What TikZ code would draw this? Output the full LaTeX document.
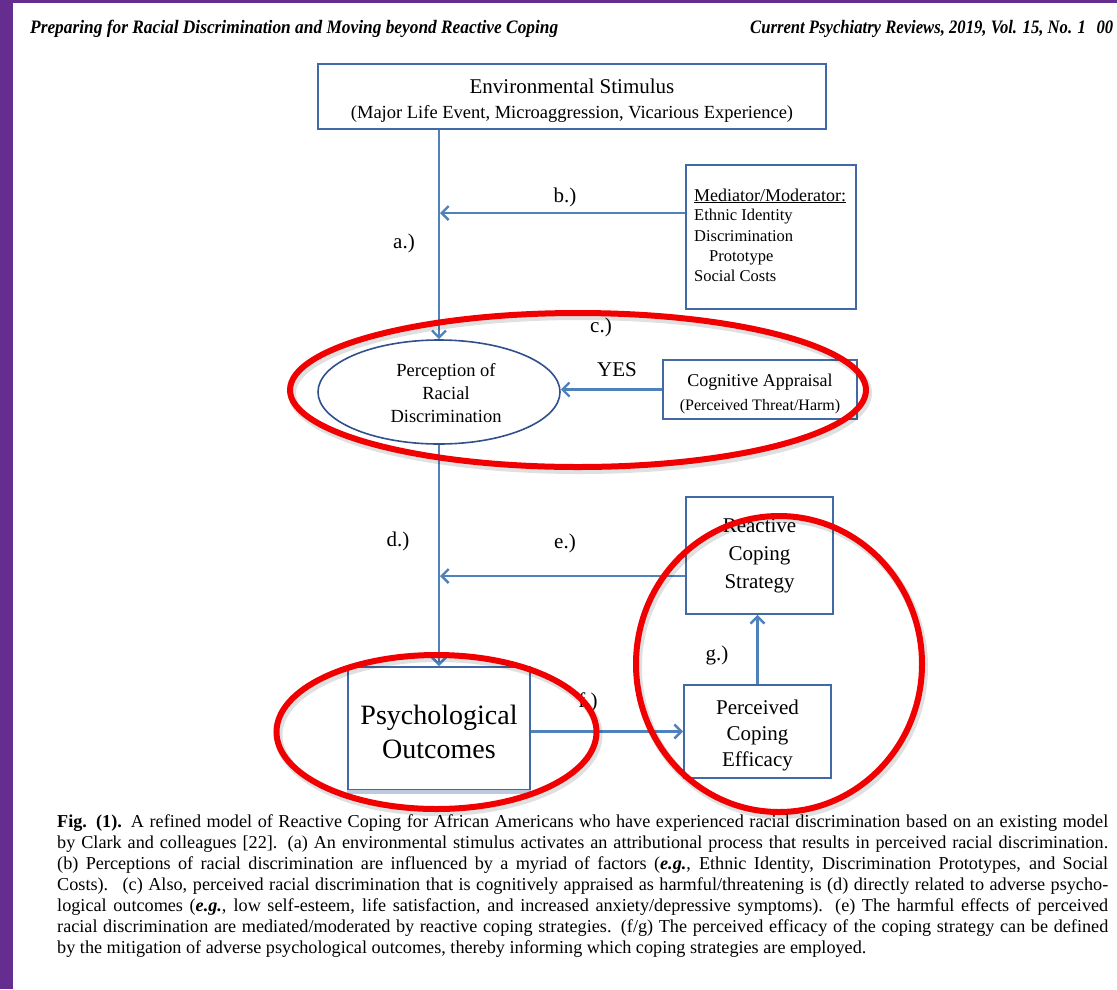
\documentclass[tikz,border=0pt]{standalone}
\usepackage{fontspec}
\setmainfont{Liberation Serif}
\usetikzlibrary{shapes.geometric,arrows.meta}
\definecolor{purpleband}{RGB}{102,45,145}
\definecolor{boxblue}{RGB}{65,105,165}
\definecolor{lineblue}{RGB}{79,129,189}
\definecolor{ellblue}{RGB}{50,80,140}
\definecolor{ringred}{RGB}{240,0,0}
\newcommand{\fsz}[2]{\fontsize{#1}{#2}\selectfont}
\begin{document}
\begin{tikzpicture}[x=1pt,y=-1pt,
  box/.style={draw=boxblue, line width=1.8pt, rectangle, inner sep=0pt, align=center},
  boxtext/.style={inner sep=0pt, align=center},
  conn/.style={draw=lineblue, line width=2.4pt, -{Straight Barb[length=7pt,width=14pt]}},
  lbl/.style={font=\fsz{21}{25}, inner sep=0pt},
  medline/.style={anchor=base west, inner sep=0pt, font=\fsz{16.5}{20}},
  capline/.style={anchor=base west, inner sep=0pt, font=\fsz{18.2}{21}},
  ring/.style={draw=ringred, line width=6pt},
  ringshadow/.style={draw=black, opacity=0.12, line width=8pt}]
\useasboundingbox (0,0) rectangle (1117,989);
\fill[white] (0,0) rectangle (1117,989);
\fill[purpleband] (0,0) rectangle (13,989);
\fill[purpleband] (0,0) rectangle (1117,3);

% header
\node[anchor=base west, inner sep=0pt] (hleft) at (30,33)
  {\resizebox{528pt}{\height}{\fsz{19}{21}\bfseries\itshape Preparing for Racial Discrimination and Moving beyond Reactive Coping}};
\node[anchor=base west, inner sep=0pt] (hright) at (750,33)
  {\resizebox{363pt}{\height}{\fsz{19}{21}\bfseries\itshape Current Psychiatry Reviews, 2019, Vol. 15, No. 1\hspace{12pt}00}};

% boxes
\node[box, minimum width=508pt, minimum height=65pt] (env) at (572,96.5) {};
\node[boxtext, font=\fsz{21}{25}] (envtxt) at (572,101)
  {Environmental Stimulus\\{\fsz{18.5}{22}(Major Life Event, Microaggression, Vicarious Experience)}};
\node[box, minimum width=170pt, minimum height=144pt] (med) at (771,237) {};
\node[medline, font=\fsz{18}{20}] (medA) at (694,201) {\underline{Mediator/Moderator:}};
\node[medline] (medB) at (694,220) {Ethnic Identity};
\node[medline] (medC) at (694,241) {Discrimination};
\node[medline] (medD) at (709,261) {Prototype};
\node[medline] (medE) at (694,281) {Social Costs};

\node[ellipse, draw=ellblue, line width=1.6pt, minimum width=242pt, minimum height=104pt,
  inner sep=0pt] (ell) at (439,392) {};
\node[boxtext, font=\fsz{18.5}{23}] (elltxt) at (446,393)
  {Perception of\\Racial\\Discrimination};
\node[box, minimum width=194pt, minimum height=59pt] (ca) at (760,389.5) {};
\node[boxtext, font=\fsz{18}{24}] (catxt) at (760,394)
  {Cognitive Appraisal\\{\fsz{16}{20}(Perceived Threat/Harm)}};

\node[box, minimum width=147pt, minimum height=117pt, font=\fsz{21}{28}] (rcs) at (759.5,555.5)
  {Reactive\\Coping\\Strategy};
\node[box, minimum width=147pt, minimum height=93pt] (pce) at (757.5,731.5) {};
\node[boxtext, font=\fsz{21}{26}] (pcetxt) at (757.5,735)
  {Perceived\\Coping\\Efficacy};
\node[box, minimum width=182pt, minimum height=123pt] (po) at (439,728.5) {};
\node[boxtext, font=\fsz{28}{34}] (potxt) at (439,732)
  {Psychological\\Outcomes};
\draw[white, line width=2.4pt] (po.south west) -- (po.south east);
\draw[boxblue!35, line width=3.5pt] ([yshift=-1pt]po.south west) -- ([yshift=-1pt]po.south east);

% connector joints
\coordinate (bjoin) at (440,213);
\coordinate (ejoin) at (440,576);

% connectors
\draw[conn] (env.south -| ell.north) -- (ell.north);
\draw[conn] ([yshift=24pt]med.west) -- (bjoin);
\draw[conn] (ca.west) -- (ell.east |- ca.west);
\draw[conn] (ell.south) -- (po.north);
\draw[conn] ([yshift=-20.5pt]rcs.west) -- (ejoin);
\draw[conn] (po.east |- pce.west) -- (pce.west);
\draw[conn] (pce.north) -- (pce.north |- rcs.south);

% labels
\node[lbl] (la) at (404,243) {a.)};
\node[lbl] (lb) at (565,197) {b.)};
\node[lbl] (lc) at (601,327) {c.)};
\node[lbl] (lyes) at (617,370) {YES};
\node[lbl] (ld) at (398,541) {d.)};
\node[lbl] (le) at (565,543) {e.)};
\node[lbl] (lf) at (588,702) {f.)};
\node[lbl] (lg) at (717,655) {g.)};

% red rings
\draw[ringshadow] (580,393) ellipse [x radius=288pt, y radius=77pt];
\draw[ringshadow] (438.5,735) ellipse [x radius=160pt, y radius=77pt];
\draw[ringshadow] (781,667) ellipse [x radius=143pt, y radius=148pt];
\draw[ring] (578,390) ellipse [x radius=288pt, y radius=77pt];
\draw[ring] (436.5,732) ellipse [x radius=160pt, y radius=77pt];
\draw[ring] (779,664) ellipse [x radius=143pt, y radius=148pt];

% caption
\node[capline] (c1) at (57,827) {\makebox[1051pt][s]{\textbf{Fig. (1).} A refined model of Reactive Coping for African Americans who have experienced racial discrimination based on an existing model}};
\node[capline] (c2) at (57,848) {\makebox[1051pt][s]{by Clark and colleagues [22]. (a) An environmental stimulus activates an attributional process that results in perceived racial discrimination.}};
\node[capline] (c3) at (57,869) {\makebox[1051pt][s]{(b) Perceptions of racial discrimination are influenced by a myriad of factors (\textbf{\textit{e.g.}}, Ethnic Identity, Discrimination Prototypes, and Social}};
\node[capline] (c4) at (57,890) {\makebox[1051pt][s]{Costs). \ (c) Also, perceived racial discrimination that is cognitively appraised as harmful/threatening is (d) directly related to adverse psycho-}};
\node[capline] (c5) at (57,911) {\makebox[1051pt][s]{logical outcomes (\textbf{\textit{e.g.}}, low self-esteem, life satisfaction, and increased anxiety/depressive symptoms). (e) The harmful effects of perceived}};
\node[capline] (c6) at (57,932) {\makebox[1051pt][s]{racial discrimination are mediated/moderated by reactive coping strategies. (f/g) The perceived efficacy of the coping strategy can be defined}};
\node[capline] (c7) at (57,953) {by the mitigation of adverse psychological outcomes, thereby informing which coping strategies are employed.};
\end{tikzpicture}
\end{document}
